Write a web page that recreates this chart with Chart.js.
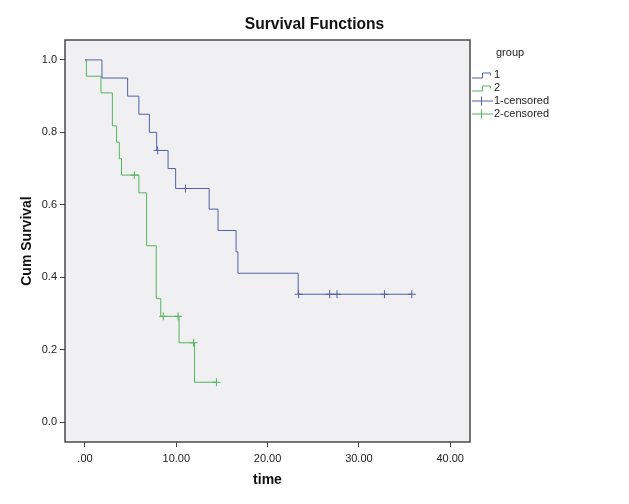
<!DOCTYPE html>
<html>
<head>
<meta charset="utf-8">
<script src="https://cdn.jsdelivr.net/npm/chart.js@4"></script>
<style>
  html, body { margin: 0; background: #fff; }
</style>
</head>
<body>
<canvas id="km" width="629" height="504"></canvas>
<script>
// step points of the survival curves (time, cum survival)
var g1Times = [0, 1.86, 4.67, 5.9, 7.05, 7.85, 9.1, 9.93, 13.6, 14.57, 16.55, 16.75, 23.35, 35.8];
var g1Surv = [1, 0.95, 0.90, 0.85, 0.80, 0.75, 0.70, 0.645, 0.588, 0.529, 0.47, 0.411, 0.353, 0.353];
var g2Times = [0, 0.15, 1.75, 3.0, 3.46, 3.76, 4.0, 5.9, 6.75, 7.8, 8.3, 10.3, 12.0, 14.4];
var g2Surv = [1, 0.955, 0.909, 0.818, 0.773, 0.727, 0.682, 0.633, 0.487, 0.341, 0.292, 0.219, 0.110, 0.110];

// censored observations
var g1Censored = [7.96, 11.0, 23.4, 26.8, 27.6, 32.8, 35.8];
var g2Censored = [5.4, 8.57, 10.2, 11.9, 14.4];

var xTicks = [0, 10, 20, 30, 40];
var yTicks = [0, 0.2, 0.4, 0.6, 0.8, 1.0];
var legendLabels = ["1", "2", "1-censored", "2-censored"];
var chartTitle = "Survival Functions";

var blue = "#5260a4";
var green = "#55b45e";
var FONT = '"Liberation Sans", Arial, sans-serif';

function stepPoints(times, surv) {
  return times.map((t, i) => ({ x: t, y: surv[i] }));
}

function survAt(times, surv, t) {
  let s = surv[0];
  for (let i = 0; i < times.length; i++) {
    if (times[i] <= t) s = surv[i];
  }
  return s;
}

function censorPoints(cens, times, surv) {
  return cens.map((t) => ({ x: t, y: survAt(times, surv, t) }));
}

var framePlugin = {
  id: "frame",
  beforeDraw(chart) {
    const a = chart.chartArea;
    const ctx = chart.ctx;
    ctx.save();
    ctx.fillStyle = "#f0f0f2";
    ctx.fillRect(a.left, a.top, a.right - a.left, a.bottom - a.top);
    ctx.restore();
  },
  afterDraw(chart) {
    const a = chart.chartArea;
    const ctx = chart.ctx;
    ctx.save();
    ctx.strokeStyle = "#4a4a4a";
    ctx.lineWidth = 1.5;
    ctx.strokeRect(a.left, a.top, a.right - a.left, a.bottom - a.top);
    // title, centred on the whole canvas
    ctx.font = "bold 15.6px " + FONT;
    ctx.fillStyle = "#111";
    ctx.textAlign = "center";
    ctx.textBaseline = "alphabetic";
    ctx.fillText(chartTitle, chart.width / 2, 28.5);
    ctx.restore();
  },
};

var legendPlugin = {
  id: "groupLegend",
  afterDraw(chart) {
    const ctx = chart.ctx;
    const colors = [blue, green, blue, green];
    ctx.save();
    ctx.font = "11px " + FONT;
    ctx.fillStyle = "#222";
    ctx.textBaseline = "middle";
    ctx.fillText("group", 496, 53);
    legendLabels.forEach((label, i) => {
      const y = 74.5 + i * 13;
      ctx.strokeStyle = colors[i];
      ctx.lineWidth = 1;
      ctx.beginPath();
      if (i < 2) {
        ctx.moveTo(472, y + 3.5);
        ctx.lineTo(482.5, y + 3.5);
        ctx.lineTo(482.5, y - 1.5);
        ctx.lineTo(490.5, y - 1.5);
        ctx.lineTo(490.5, y + 1);
      } else {
        ctx.moveTo(472, y + 0.5);
        ctx.lineTo(493, y + 0.5);
        ctx.moveTo(481.5, y - 4);
        ctx.lineTo(481.5, y + 5);
      }
      ctx.stroke();
      ctx.fillStyle = "#222";
      ctx.fillText(label, 494, y);
    });
    ctx.restore();
  },
};

var ctx = document.getElementById("km").getContext("2d");
var chart = new Chart(ctx, {
  type: "scatter",
  data: {
    datasets: [
      {
        label: "2",
        data: stepPoints(g2Times, g2Surv),
        showLine: true,
        stepped: "before",
        borderColor: green,
        borderWidth: 1,
        pointRadius: 0,
        order: 4,
      },
      {
        label: "1",
        data: stepPoints(g1Times, g1Surv),
        showLine: true,
        stepped: "before",
        borderColor: blue,
        borderWidth: 1,
        pointRadius: 0,
        order: 3,
      },
      {
        label: "2-censored",
        data: censorPoints(g2Censored, g2Times, g2Surv),
        showLine: false,
        pointStyle: "cross",
        pointRadius: 4,
        borderColor: green,
        borderWidth: 1,
        order: 2,
      },
      {
        label: "1-censored",
        data: censorPoints(g1Censored, g1Times, g1Surv),
        showLine: false,
        pointStyle: "cross",
        pointRadius: 4,
        borderColor: blue,
        borderWidth: 1,
        order: 1,
      },
    ],
  },
  options: {
    responsive: false,
    animation: false,
    layout: { padding: { left: 0, right: 159, top: 40, bottom: 0 } },
    plugins: {
      legend: { display: false },
      tooltip: { enabled: false },
      title: { display: false },
    },
    scales: {
      x: {
        type: "linear",
        min: -2.19,
        max: 42.17,
        afterBuildTicks: (scale) => {
          scale.ticks = xTicks.map((v) => ({ value: v }));
        },
        afterFit: (scale) => {
          scale.height = 62;
        },
        border: { display: false },
        grid: { drawOnChartArea: false, drawTicks: true, tickLength: 5, color: "#444" },
        ticks: {
          color: "#222",
          padding: 5,
          maxRotation: 0,
          font: { family: FONT, size: 11 },
          callback: (v) => (v === 0 ? ".00" : v.toFixed(2)),
        },
        title: {
          display: true,
          text: "time",
          color: "#111",
          font: { family: FONT, size: 14, weight: "bold" },
          padding: { top: 0, bottom: 15 },
        },
      },
      y: {
        type: "linear",
        min: -0.055,
        max: 1.055,
        afterBuildTicks: (scale) => {
          scale.ticks = yTicks.map((v) => ({ value: v }));
        },
        afterFit: (scale) => {
          scale.width = 65;
        },
        border: { display: false },
        grid: { drawOnChartArea: false, drawTicks: true, tickLength: 5, color: "#444" },
        ticks: {
          color: "#222",
          padding: 3,
          font: { family: FONT, size: 11 },
          callback: (v) => v.toFixed(1),
        },
        title: {
          display: true,
          text: "Cum Survival",
          color: "#111",
          font: { family: FONT, size: 14, weight: "bold" },
          padding: { top: 19, bottom: 0 },
        },
      },
    },
  },
  plugins: [framePlugin, legendPlugin],
});
</script>
</body>
</html>
